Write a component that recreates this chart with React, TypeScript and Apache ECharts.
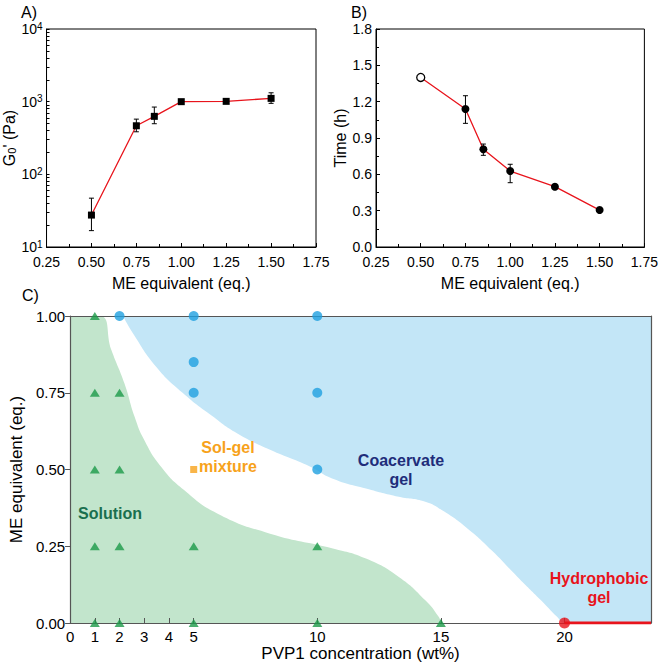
import React, { useEffect, useRef } from "react";
import * as echarts from "echarts";

// Panel A / B data
const meEq = [0.5, 0.75, 0.85, 1.0, 1.25, 1.5];
const g0 = [27.5, 466, 628, 1000, 1010, 1110];
const g0Lo = [16.8, 385, 497, 975, 990, 948];
const g0Hi = [47, 575, 843, 1025, 1030, 1325];
const gelTime = [1.4, 1.139, 0.807, 0.627, 0.498, 0.305];
const timeLo: (number | null)[] = [null, 1.021, 0.757, 0.531, 0.482, null];
const timeHi: (number | null)[] = [null, 1.249, 0.85, 0.683, 0.515, null];

// Panel C data
const solutionPts = [
  [1, 1.0], [1, 0.75], [2, 0.75], [1, 0.5], [2, 0.5], [1, 0.25], [2, 0.25], [5, 0.25], [10, 0.25],
  [1, 0], [2, 0], [5, 0], [10, 0], [15, 0],
];
const coacervatePts = [[2, 1.0], [5, 1.0], [10, 1.0], [5, 0.85], [5, 0.75], [10, 0.75], [10, 0.5]];
const solGelPts = [[5, 0.5]];
const hydrophobicPts = [[20, 0]];
const hydrophobicLine = [[20, 0], [23.5, 0]];
const solutionBoundary = [
  [0, 1.0], [1.2, 1.0], [1.67, 0.889], [2.2, 0.78], [2.61, 0.672], [3.0, 0.596], [3.68, 0.509],
  [4.61, 0.433], [5.95, 0.357], [8.09, 0.291], [10.63, 0.243], [11.97, 0.21], [13.3, 0.15],
  [14.37, 0.074], [14.91, 0.02], [15, 0],
];
const coacervateBoundary = [
  [2.14, 1.0], [2.54, 0.944], [3.48, 0.835], [4.55, 0.75], [5.75, 0.674], [6.75, 0.618],
  [8.09, 0.564], [9.7, 0.51], [10.6, 0.471], [11.97, 0.438], [13.3, 0.411], [14.37, 0.395],
  [15.05, 0.367], [16.0, 0.313], [17.05, 0.237], [18.1, 0.15], [19.05, 0.074], [19.7, 0.02],
  [20, 0], [23.5, 0],
];
const cXLabels = [0, 1, 2, 3, 4, 5, 10, 15, 20];
const logMajor = [10, 100, 1000, 10000];

const FONT = "Liberation Sans";

export default function App() {
  const ref = useRef<HTMLDivElement>(null);
  useEffect(() => {
    document.body.style.margin = "0";
    const chart = echarts.init(ref.current!, null, { renderer: "svg" });

    const logMinor: number[] = [];
    for (let d = 10; d < 10000; d *= 10) for (let k = 1; k < 10; k++) logMinor.push(d * k);
    logMinor.push(10000);

    const errRender = (params: any, api: any) => {
      const x = api.value(0), lo = api.value(1), hi = api.value(2);
      const p1 = api.coord([x, lo]);
      const p2 = api.coord([x, hi]);
      const w = 2.5;
      const st = { stroke: "#000", lineWidth: 1 };
      return {
        type: "group",
        children: [
          { type: "line", shape: { x1: p1[0], y1: p1[1], x2: p2[0], y2: p2[1] }, style: st },
          { type: "line", shape: { x1: p1[0] - w, y1: p1[1], x2: p1[0] + w, y2: p1[1] }, style: st },
          { type: "line", shape: { x1: p2[0] - w, y1: p2[1], x2: p2[0] + w, y2: p2[1] }, style: st },
        ],
      };
    };

    const abX = (gi: number) => ({
      type: "value", gridIndex: gi, min: 0.25, max: 1.75, interval: 0.25,
      name: "ME equivalent (eq.)", nameLocation: "middle", nameGap: 28,
      nameTextStyle: { fontFamily: FONT, fontSize: 16, color: "#000" },
      axisLine: { show: true, lineStyle: { color: "#000", width: 1 } },
      axisTick: { show: true, inside: true, length: 4, lineStyle: { color: "#000" } },
      minorTick: { show: true, splitNumber: 2, length: 3, lineStyle: { color: "#000" } },
      axisLabel: { fontFamily: FONT, fontSize: 14, color: "#000", margin: 8, formatter: (v: number) => v.toFixed(2) },
      splitLine: { show: false },
    });

    const errA = meEq.map((x, i) => [x, g0Lo[i], g0Hi[i]]);
    const errB = meEq.map((x, i) => [x, timeLo[i], timeHi[i]]).filter((d) => d[1] != null);

    const option: any = {
      animation: false,
      textStyle: { fontFamily: FONT },
      grid: [
        { left: 46, top: 29, width: 270, height: 218, show: true, borderColor: "#000", borderWidth: 1, backgroundColor: "transparent" },
        { left: 376, top: 29, width: 269, height: 218, show: true, borderColor: "#000", borderWidth: 1, backgroundColor: "transparent" },
        { left: 65, top: 316, width: 586, height: 307, show: false },
      ],
      xAxis: [
        abX(0),
        abX(1),
        {
          type: "value", gridIndex: 2, min: 0, max: 23.5, z: 10,
          name: "PVP1 concentration (wt%)", nameLocation: "middle", nameGap: 22,
          nameTextStyle: { fontFamily: FONT, fontSize: 17, color: "#000" },
          axisLine: { show: true, onZero: false, lineStyle: { color: "#555", width: 1.2 } },
          axisTick: { show: true, inside: true, length: 5, customValues: cXLabels, lineStyle: { color: "#555" } },
          axisLabel: { fontFamily: FONT, fontSize: 15, color: "#000", margin: 6, customValues: cXLabels },
          splitLine: { show: false },
        },
        {
          type: "value", gridIndex: 2, min: 0, max: 23.5, position: "top", z: 10,
          axisLine: { show: true, onZero: false, lineStyle: { color: "#555", width: 1.2 } },
          axisTick: { show: false }, axisLabel: { show: false }, splitLine: { show: false },
        },
      ],
      yAxis: [
        {
          type: "log", gridIndex: 0, min: 10, max: 10000, logBase: 10,
          name: "G{sub|0}' (Pa)", nameLocation: "middle", nameGap: 26, nameRotate: 90,
          nameTextStyle: { fontFamily: FONT, fontSize: 16, color: "#000", rich: { sub: { fontFamily: FONT, fontSize: 11, color: "#000", verticalAlign: "bottom", padding: [6, 0, 0, 0] } } },
          axisLine: { show: true, lineStyle: { color: "#000" } },
          axisTick: { show: true, inside: true, length: 3, customValues: logMinor, lineStyle: { color: "#000" } },
          axisLabel: {
            customValues: logMajor, fontFamily: FONT, fontSize: 14, color: "#000", margin: 4,
            formatter: (v: number) => `10{sup|${Math.round(Math.log10(v))}}`,
            rich: { sup: { fontFamily: FONT, fontSize: 10, color: "#000", verticalAlign: "top", padding: [0, 0, 6, 0] } },
          },
          splitLine: { show: false },
        },
        {
          type: "value", gridIndex: 1, min: 0, max: 1.8, interval: 0.3,
          name: "Time (h)", nameLocation: "middle", nameGap: 27,
          nameTextStyle: { fontFamily: FONT, fontSize: 16, color: "#000" },
          axisLine: { show: true, lineStyle: { color: "#000" } },
          axisTick: { show: true, inside: true, length: 4, lineStyle: { color: "#000" } },
          minorTick: { show: true, splitNumber: 2, length: 3, lineStyle: { color: "#000" } },
          axisLabel: { fontFamily: FONT, fontSize: 14, color: "#000", margin: 4, lineHeight: 14, formatter: (v: number) => v.toFixed(1) },
          splitLine: { show: false },
        },
        {
          type: "value", gridIndex: 2, min: 0, max: 1, interval: 0.25, z: 10,
          name: "ME equivalent (eq.)", nameLocation: "middle", nameGap: 44,
          nameTextStyle: { fontFamily: FONT, fontSize: 17, color: "#000" },
          axisLine: { show: true, onZero: false, lineStyle: { color: "#555", width: 1.2 } },
          axisTick: { show: true, inside: false, length: 5, lineStyle: { color: "#555" } },
          axisLabel: { fontFamily: FONT, fontSize: 15, color: "#000", margin: 5, formatter: (v: number) => v.toFixed(2) },
          splitLine: { show: false },
        },
        {
          type: "value", gridIndex: 2, min: 0, max: 1, position: "right", z: 10,
          axisLine: { show: true, onZero: false, lineStyle: { color: "#555", width: 1.2 } },
          axisTick: { show: false }, axisLabel: { show: false }, splitLine: { show: false },
        },
      ],
      series: [
        // Panel A
        {
          type: "line", xAxisIndex: 0, yAxisIndex: 0, data: meEq.map((x, i) => [x, g0[i]]),
          lineStyle: { color: "#e8141c", width: 1.3 }, symbol: "rect", symbolSize: 7,
          itemStyle: { color: "#000" }, z: 5,
        },
        {
          type: "custom", xAxisIndex: 0, yAxisIndex: 0, data: errA, renderItem: errRender,
          encode: { x: 0, y: [1, 2] }, z: 6,
        },
        // Panel B
        {
          type: "line", xAxisIndex: 1, yAxisIndex: 1,
          data: meEq.map((x, i) => i === 0
            ? { value: [x, gelTime[i]], itemStyle: { color: "#fff", borderColor: "#000", borderWidth: 1.3 } }
            : { value: [x, gelTime[i]] }),
          lineStyle: { color: "#e8141c", width: 1.3 }, symbol: "circle", symbolSize: 8,
          itemStyle: { color: "#000" }, z: 5,
        },
        {
          type: "custom", xAxisIndex: 1, yAxisIndex: 1, data: errB, renderItem: errRender,
          encode: { x: 0, y: [1, 2] }, z: 6,
        },
        // Panel C regions
        {
          type: "line", xAxisIndex: 2, yAxisIndex: 2, data: solutionBoundary, smooth: 0.5,
          symbol: "none", lineStyle: { width: 0 }, areaStyle: { color: "#c2e5cc", opacity: 1, origin: "start" }, z: 1,
        },
        {
          type: "line", xAxisIndex: 2, yAxisIndex: 2, data: coacervateBoundary, smooth: 0.5,
          symbol: "none", lineStyle: { width: 0 }, areaStyle: { color: "#c3e6f7", opacity: 1, origin: "end" }, z: 1,
        },
        {
          type: "line", xAxisIndex: 2, yAxisIndex: 2, data: hydrophobicLine, symbol: "none",
          lineStyle: { color: "#e8141c", width: 3 }, z: 15,
        },
        {
          type: "scatter", xAxisIndex: 2, yAxisIndex: 2, data: solutionPts, symbol: "triangle",
          symbolSize: [10, 8], itemStyle: { color: "#1b9a48" }, z: 20,
        },
        {
          type: "scatter", xAxisIndex: 2, yAxisIndex: 2, data: coacervatePts, symbol: "circle",
          symbolSize: 10, itemStyle: { color: "#1fa0e0" }, z: 20,
        },
        {
          type: "scatter", xAxisIndex: 2, yAxisIndex: 2, data: solGelPts, symbol: "rect",
          symbolSize: 7, itemStyle: { color: "#f7a21b" }, z: 20,
        },
        {
          type: "scatter", xAxisIndex: 2, yAxisIndex: 2, data: hydrophobicPts, symbol: "circle",
          symbolSize: 11, itemStyle: { color: "#e8141c" }, z: 20,
        },
      ],
      graphic: [
        { type: "text", left: 21, top: 4, style: { text: "A)", font: `16px "${FONT}"`, fill: "#000" } },
        { type: "text", left: 351, top: 4, style: { text: "B)", font: `16px "${FONT}"`, fill: "#000" } },
        { type: "text", left: 22, top: 287, style: { text: "C)", font: `16px "${FONT}"`, fill: "#000" } },
        { type: "text", x: 110, y: 513, z: 30, style: { text: "Solution", font: `bold 16px "${FONT}"`, fill: "#1a6f4f", align: "center", verticalAlign: "middle" } },
        { type: "text", x: 228, y: 457, z: 30, style: { text: "Sol-gel\nmixture", font: `bold 16px "${FONT}"`, lineHeight: 19, fill: "#f7a21b", align: "center", verticalAlign: "middle" } },
        { type: "text", x: 401, y: 470, z: 30, style: { text: "Coacervate\ngel", font: `bold 16px "${FONT}"`, lineHeight: 19, fill: "#1f2d7a", align: "center", verticalAlign: "middle" } },
        { type: "text", x: 599, y: 588, z: 30, style: { text: "Hydrophobic\ngel", font: `bold 16px "${FONT}"`, lineHeight: 19, fill: "#e8141c", align: "center", verticalAlign: "middle" } },
      ],
    };
    chart.setOption(option);
    return () => chart.dispose();
  }, []);
  return <div ref={ref} style={{ width: 661, height: 665 }} />;
}
